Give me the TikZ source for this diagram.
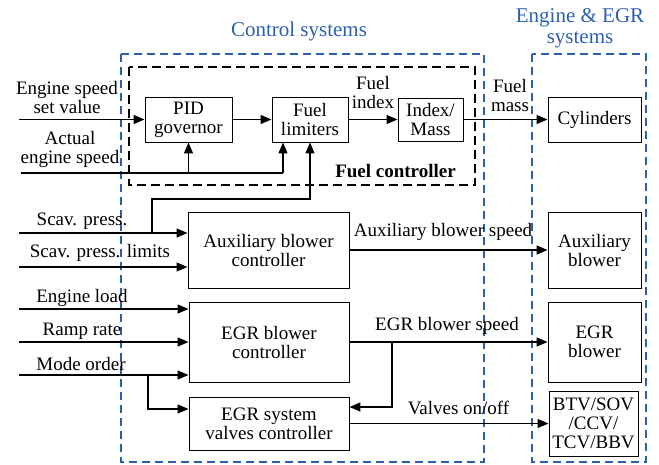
\documentclass[tikz,border=0pt]{standalone}
\usepackage{fontspec}
\setmainfont{Liberation Serif}
\usetikzlibrary{arrows.meta}
\definecolor{grpblue}{RGB}{45,95,175}
\begin{document}
\begin{tikzpicture}[x=1pt,y=-1pt,
  every node/.style={font=\fontsize{19}{19}\selectfont, inner sep=0pt},
  blk/.style={draw, line width=0.9pt, align=center},
  lbl/.style={align=center},
  sig/.style={line width=1.3pt, -{Triangle[length=11pt,width=9pt]}},
  wire/.style={line width=1.3pt},
  grp/.style={draw=grpblue, dash pattern=on 8pt off 5pt, line width=1.2pt},
  subgrp/.style={draw=black, dash pattern=on 9pt off 5pt, line width=1.3pt},
  title/.style={text=grpblue, align=center, font=\fontsize{21}{21}\selectfont}]
\useasboundingbox (0,0) rectangle (659,464);

% group frames
\draw[grp] (121,54) rectangle (484,462);
\draw[grp] (532,54) rectangle (646,462);
\draw[subgrp] (129,67) rectangle (475,185);

\node[title] (tctrl) at (299,31) {Control systems};
\node[title] (teng) at (580,28) {Engine \& EGR\\systems};

% blocks
\node[blk, minimum width=87pt, minimum height=45pt] (pid) at (188.5,119.5) {PID\\governor};
\node[blk, minimum width=76pt, minimum height=45pt] (fl) at (310,119.5) {Fuel\\limiters};
\node[blk, minimum width=65pt, minimum height=43pt] (im) at (430.5,119.5) {Index/\\Mass};
\node[blk, minimum width=93pt, minimum height=45pt] (cyl) at (594.5,119.5) {Cylinders};
\node[blk, minimum width=161pt, minimum height=76pt] (aux) at (268.5,250) {Auxiliary blower\\controller};
\node[blk, minimum width=93pt, minimum height=76pt] (auxb) at (594.5,250) {Auxiliary\\blower};
\node[blk, minimum width=160pt, minimum height=80pt] (egr) at (269,342) {EGR blower\\controller};
\node[blk, minimum width=93pt, minimum height=80pt] (egrb) at (594.5,342) {EGR\\blower};
\node[blk, minimum width=160pt, minimum height=53pt] (valv) at (269,423.5) {EGR system\\valves controller};
\node[blk, minimum width=89pt, minimum height=65pt] (btv) at (593.5,423.5) {BTV/SOV\\/CCV/\\TCV/BBV};

\node[font=\fontsize{19}{19}\selectfont\bfseries] (tfc) at (395.5,171) {Fuel controller};

% input labels
\node[lbl] (lset) at (67,97) {Engine speed\\set value};
\node[lbl] (lact) at (70,149) {Actual\\engine speed};
\node[lbl] (lscav) at (82,221) {Scav. press.};
\node[lbl] (llim) at (100,253) {Scav. press. limits};
\node[lbl] (lload) at (82,298) {Engine load};
\node[lbl] (lramp) at (82,331) {Ramp rate};
\node[lbl] (lmode) at (81,364) {Mode order};

% signal labels
\node[lbl] (lfi) at (373,92.5) {Fuel\\index};
\node[lbl] (lfm) at (510,95) {Fuel\\mass};
\node[lbl] (laux) at (443,232) {Auxiliary blower speed};
\node[lbl] (legr) at (447,326) {EGR blower speed};
\node[lbl] (lvalv) at (458.5,408) {Valves on/off};

% signal sources and branch points
\coordinate (inSet) at (19,119.5);
\coordinate (inAct) at (21,173);
\coordinate (actEnd) at (283,173);
\coordinate (inScav) at (19,233);
\coordinate (scavTap) at (152,233);
\coordinate (limTap) at (310,199);
\coordinate (inLim) at (19,267);
\coordinate (inLoad) at (19,309);
\coordinate (inRamp) at (19,342);
\coordinate (inMode) at (19,375);
\coordinate (modeTap) at (148,375);
\coordinate (egrTap) at (392,342);

% fuel path
\draw[sig] (inSet) -- (pid.west);
\draw[sig] (pid) -- (fl);
\draw[sig] (fl) -- (im);
\draw[sig] (im) -- (cyl);
\draw[wire] (inAct) -- (actEnd);
\draw[sig] (actEnd) -- (fl.south -| actEnd);
\draw[sig] (inAct -| pid.south) -- (pid.south);
\draw[sig] (scavTap) |- (limTap) -- (fl.south -| limTap);

% blower and valve paths
\draw[sig] (inScav) -- (aux.west |- inScav);
\draw[sig] (inLim) -- (aux.west |- inLim);
\draw[sig] (aux) -- (auxb);
\draw[sig] (inLoad) -- (egr.west |- inLoad);
\draw[sig] (inRamp) -- (egr.west |- inRamp);
\draw[sig] (inMode) -- (egr.west |- inMode);
\draw[sig] (modeTap) |- ([yshift=14.5pt]valv.west);
\draw[sig] (egr) -- (egrb);
\draw[sig] (egrTap) |- ([yshift=16.5pt]valv.east);
\draw[sig] (valv) -- (btv);
\end{tikzpicture}
\end{document}
